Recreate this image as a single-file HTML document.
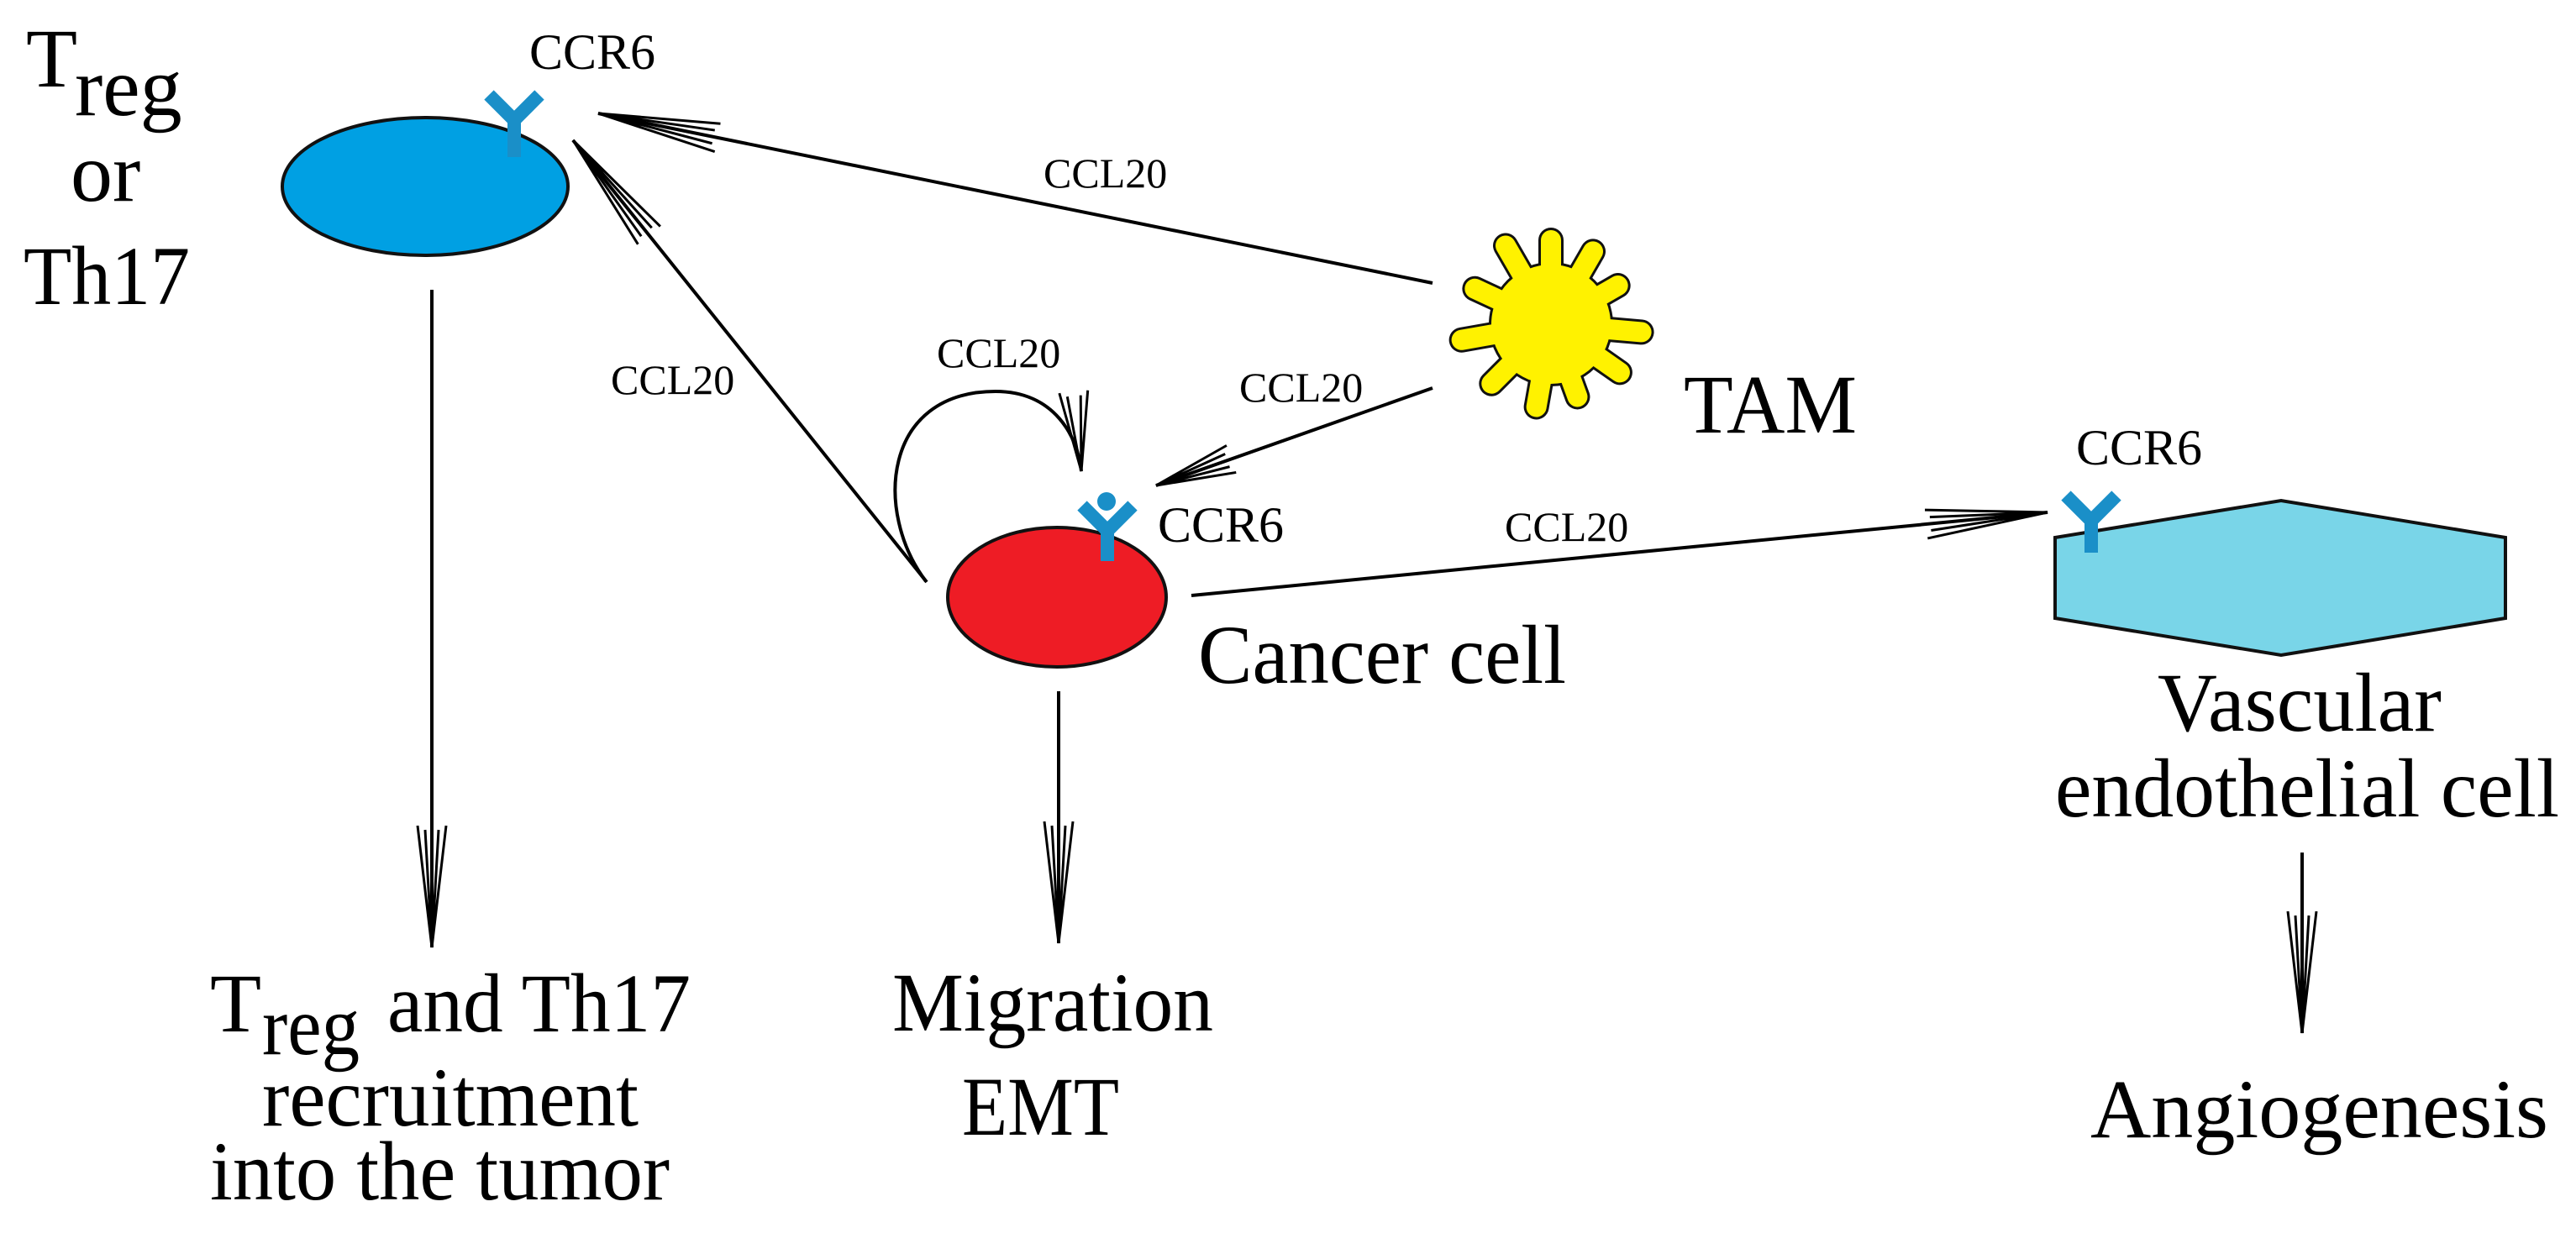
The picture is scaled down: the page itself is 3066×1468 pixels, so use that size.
<!DOCTYPE html>
<html><head><meta charset="utf-8"><style>
html,body{margin:0;padding:0;background:#fff;}
svg{display:block;}
text{font-family:"Liberation Serif",serif;fill:#000;}
</style></head><body>
<svg width="3066" height="1468" viewBox="0 0 3066 1468" xmlns="http://www.w3.org/2000/svg">
<defs>
<marker id="ah" markerUnits="userSpaceOnUse" markerWidth="300" markerHeight="60" refX="0" refY="0" viewBox="-150 -30 160 60" orient="auto" overflow="visible">
<path d="M-145,-17 L0,0 L-145,17 M-140,-8 L0,0 L-140,8" fill="none" stroke="#000" stroke-width="3"/>
</marker>
<marker id="ahs" markerUnits="userSpaceOnUse" markerWidth="200" markerHeight="60" refX="0" refY="0" viewBox="-110 -30 120 60" orient="auto" overflow="visible">
<path d="M-95,-17 L0,0 L-95,17 M-90,-8 L0,0 L-90,8" fill="none" stroke="#000" stroke-width="3"/>
</marker>
</defs>

<!-- Treg cell -->
<ellipse cx="506" cy="222" rx="170" ry="82" fill="#00a0e3" stroke="#111" stroke-width="4"/>
<polyline points="582,113 612,143 642,113" fill="none" stroke="#1a8fc8" stroke-width="16"/>
<line x1="612" y1="140" x2="612" y2="187" stroke="#1a8fc8" stroke-width="16"/>
<text x="630" y="82" font-size="60">CCR6</text>

<text x="31" y="103" font-size="100">T</text>
<text x="89" y="137" font-size="100">reg</text>
<text x="84" y="239" font-size="100">or</text>
<text x="28" y="362" font-size="100" textLength="198" lengthAdjust="spacingAndGlyphs">Th17</text>

<!-- Cancer cell -->
<ellipse cx="1258" cy="711" rx="130" ry="83" fill="#ee1c25" stroke="#111" stroke-width="4"/>
<polyline points="1288,602 1318,632 1348,602" fill="none" stroke="#1a8fc8" stroke-width="16"/>
<line x1="1318" y1="628" x2="1318" y2="668" stroke="#1a8fc8" stroke-width="16"/>
<circle cx="1317" cy="597" r="11" fill="#1a8fc8"/>
<text x="1378" y="645" font-size="60">CCR6</text>
<text x="1426" y="813" font-size="100" textLength="438" lengthAdjust="spacingAndGlyphs">Cancer cell</text>

<!-- TAM -->
<g transform="translate(1846,386)">
<g stroke="#111" stroke-width="30" stroke-linecap="round">
<line x1="0" y1="0" x2="0" y2="-100"/>
<line x1="0" y1="0" x2="0" y2="-100" transform="rotate(30)"/>
<line x1="0" y1="0" x2="0" y2="-92" transform="rotate(60)"/>
<line x1="0" y1="0" x2="0" y2="-108" transform="rotate(95)"/>
<line x1="0" y1="0" x2="0" y2="-100" transform="rotate(125)"/>
<line x1="0" y1="0" x2="0" y2="-92" transform="rotate(160)"/>
<line x1="0" y1="0" x2="0" y2="-100" transform="rotate(190)"/>
<line x1="0" y1="0" x2="0" y2="-100" transform="rotate(225)"/>
<line x1="0" y1="0" x2="0" y2="-108" transform="rotate(260)"/>
<line x1="0" y1="0" x2="0" y2="-100" transform="rotate(295)"/>
<line x1="0" y1="0" x2="0" y2="-108" transform="rotate(330)"/>
</g>
<circle r="74" fill="#111"/>
<g stroke="#fff200" stroke-width="24" stroke-linecap="round">
<line x1="0" y1="0" x2="0" y2="-100"/>
<line x1="0" y1="0" x2="0" y2="-100" transform="rotate(30)"/>
<line x1="0" y1="0" x2="0" y2="-92" transform="rotate(60)"/>
<line x1="0" y1="0" x2="0" y2="-108" transform="rotate(95)"/>
<line x1="0" y1="0" x2="0" y2="-100" transform="rotate(125)"/>
<line x1="0" y1="0" x2="0" y2="-92" transform="rotate(160)"/>
<line x1="0" y1="0" x2="0" y2="-100" transform="rotate(190)"/>
<line x1="0" y1="0" x2="0" y2="-100" transform="rotate(225)"/>
<line x1="0" y1="0" x2="0" y2="-108" transform="rotate(260)"/>
<line x1="0" y1="0" x2="0" y2="-100" transform="rotate(295)"/>
<line x1="0" y1="0" x2="0" y2="-108" transform="rotate(330)"/>
</g>
<circle r="71" fill="#fff200"/>
</g>
<text x="2004" y="515" font-size="100" textLength="206" lengthAdjust="spacingAndGlyphs">TAM</text>

<!-- Vascular endothelial cell -->
<polygon points="2446,640 2715,596 2982,640 2982,736 2715,780 2446,736" fill="#79d5e8" stroke="#111" stroke-width="4"/>
<polyline points="2459,590 2489,620 2519,590" fill="none" stroke="#1a8fc8" stroke-width="16"/>
<line x1="2489" y1="616" x2="2489" y2="658" stroke="#1a8fc8" stroke-width="16"/>
<text x="2471" y="553" font-size="60">CCR6</text>
<text x="2568" y="870" font-size="100" textLength="338" lengthAdjust="spacingAndGlyphs">Vascular</text>
<text x="2446" y="972" font-size="100" textLength="600" lengthAdjust="spacingAndGlyphs">endothelial cell</text>

<!-- connectors -->
<g stroke="#000" stroke-width="4" fill="none">
<line x1="1705" y1="337" x2="712" y2="135" marker-end="url(#ah)"/>
<line x1="1103" y1="693" x2="682" y2="167" marker-end="url(#ah)"/>
<line x1="1705" y1="462" x2="1376" y2="578" marker-end="url(#ahs)"/>
<line x1="1418" y1="709" x2="2437" y2="610" marker-end="url(#ah)"/>
<path d="M1102,692 C1040,610 1050,466 1185,466 C1255,466 1283,520 1287,561" marker-end="url(#ahs)"/>
<line x1="514" y1="345" x2="514" y2="1128" marker-end="url(#ah)"/>
<line x1="1260" y1="823" x2="1260" y2="1123" marker-end="url(#ah)"/>
<line x1="2740" y1="1015" x2="2740" y2="1230" marker-end="url(#ah)"/>
</g>

<text x="1242" y="223" font-size="50">CCL20</text>
<text x="727" y="469" font-size="50">CCL20</text>
<text x="1115" y="437" font-size="50">CCL20</text>
<text x="1475" y="478" font-size="50">CCL20</text>
<text x="1791" y="644" font-size="50">CCL20</text>

<!-- outcomes -->
<text x="1062" y="1227" font-size="100" textLength="382" lengthAdjust="spacingAndGlyphs">Migration</text>
<text x="1145" y="1351" font-size="100" textLength="187" lengthAdjust="spacingAndGlyphs">EMT</text>
<text x="250" y="1228" font-size="100">T</text>
<text x="312" y="1255" font-size="100" textLength="116" lengthAdjust="spacingAndGlyphs">reg</text>
<text x="461" y="1228" font-size="100" textLength="361" lengthAdjust="spacingAndGlyphs">and Th17</text>
<text x="312" y="1340" font-size="100" textLength="448" lengthAdjust="spacingAndGlyphs">recruitment</text>
<text x="250" y="1428" font-size="100" textLength="547" lengthAdjust="spacingAndGlyphs">into the tumor</text>
<text x="2488" y="1354" font-size="100" textLength="545" lengthAdjust="spacingAndGlyphs">Angiogenesis</text>
</svg>
</body></html>
